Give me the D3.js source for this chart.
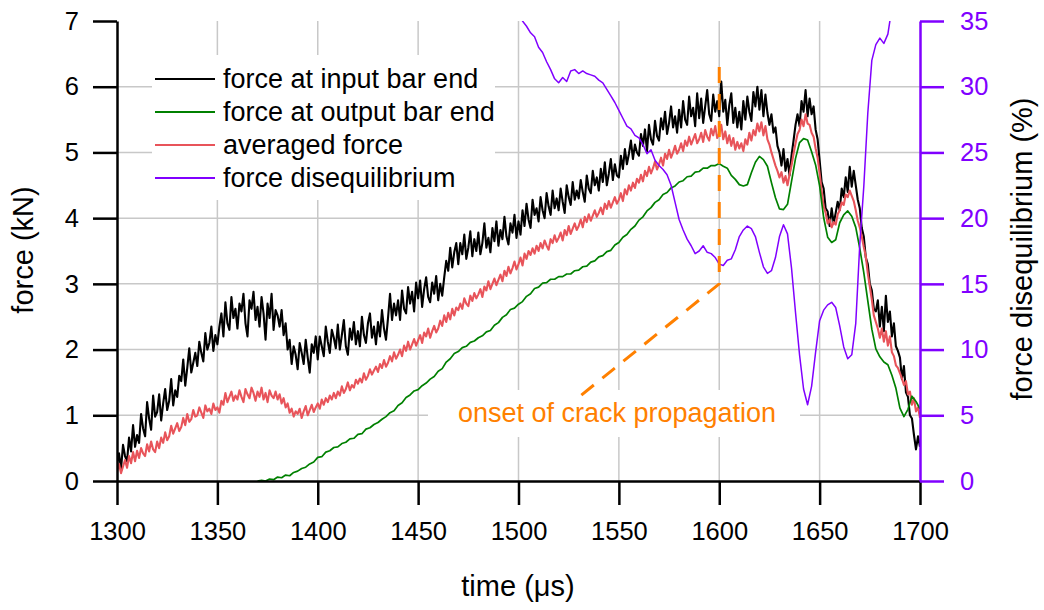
<!DOCTYPE html>
<html><head><meta charset="utf-8">
<script src="https://cdn.jsdelivr.net/npm/d3@7"></script>
<style>
body{margin:0;background:#fff}
svg{display:block}
text{font-family:"Liberation Sans",Arial,sans-serif}
</style>
</head><body>
<svg id="chart" width="1044" height="610"></svg>
<script>
// ---------- data ----------
const timeTicks = [1300, 1350, 1400, 1450, 1500, 1550, 1600, 1650, 1700];
const forceTicks = [0, 1, 2, 3, 4, 5, 6, 7];
const diseqTicks = [0, 5, 10, 15, 20, 25, 30, 35];

// force at input bar end, kN, sampled every 1 µs from 1300 µs
const inputStart = 1300, inputStep = 1;
const inputForce = [
0.25,0.42,0.18,0.55,0.38,0.30,0.66,0.45,0.85,0.52,
0.70,0.58,1.02,0.80,0.68,1.20,0.95,0.78,1.30,0.98,
1.05,1.32,0.92,1.18,1.40,1.08,1.22,1.55,1.15,1.38,
1.28,1.60,1.52,1.85,1.45,1.72,2.02,1.65,1.80,1.95,
1.75,2.12,1.95,1.82,2.25,2.00,2.10,2.35,1.98,2.22,
2.08,2.35,2.55,2.20,2.72,2.40,2.30,2.80,2.48,2.62,
2.32,2.70,2.58,2.85,2.40,2.20,2.75,2.62,2.88,2.45,
2.65,2.35,2.80,2.55,2.15,2.70,2.48,2.85,2.30,2.60,
2.52,2.35,2.60,2.22,2.40,2.00,2.15,1.78,2.05,1.92,
1.70,2.10,1.95,1.78,2.15,1.88,1.65,2.08,1.95,2.20,
1.85,2.20,2.05,1.90,2.35,2.12,1.95,2.30,2.18,2.02,
2.38,2.00,2.22,2.45,2.05,1.92,2.32,2.15,2.42,2.08,
2.28,2.05,2.50,2.22,2.10,2.40,2.55,2.18,2.35,2.08,
2.42,2.20,2.60,2.32,2.15,2.48,2.85,2.45,2.70,2.52,
2.75,2.45,2.90,2.62,2.55,2.95,2.70,2.88,2.58,3.02,
2.78,3.05,2.65,2.92,3.10,2.80,2.72,3.02,2.85,3.12,
2.75,3.00,2.82,3.10,3.35,3.20,3.55,3.25,3.48,3.62,
3.30,3.62,3.45,3.75,3.38,3.55,3.80,3.42,3.68,3.50,
3.78,3.45,3.62,3.92,3.55,3.70,3.48,3.85,3.65,3.95,
3.58,3.82,3.68,4.02,3.72,3.60,3.92,3.78,4.05,3.70,
3.95,3.75,4.12,3.88,4.22,3.98,3.85,4.28,4.05,4.15,
3.95,4.32,4.12,4.00,4.38,4.18,4.05,4.42,4.15,4.30,
4.12,4.45,4.25,4.08,4.50,4.32,4.20,4.55,4.28,4.42,
4.30,4.58,4.40,4.25,4.65,4.45,4.38,4.72,4.50,4.62,
4.42,4.75,4.55,4.85,4.50,4.68,4.90,4.58,4.82,4.65,
4.62,4.95,4.75,5.05,4.82,4.98,5.18,4.90,5.12,5.00,
4.95,5.28,5.10,5.35,5.02,5.42,5.20,5.12,5.48,5.25,
5.18,5.52,5.35,5.62,5.28,5.45,5.70,5.38,5.55,5.30,
5.65,5.38,5.78,5.50,5.42,5.85,5.55,5.68,5.40,5.90,
5.52,5.82,5.45,5.70,5.95,5.58,5.48,5.88,5.62,5.78,
5.55,6.08,5.62,5.80,5.42,5.72,5.90,5.45,5.68,5.38,
5.62,5.35,5.78,5.50,5.85,5.62,5.48,5.92,5.70,6.00,
5.65,5.95,5.55,5.88,5.60,5.42,5.58,5.30,5.38,5.10,
5.00,4.80,5.05,4.72,4.90,4.65,4.95,5.18,5.42,5.58,
5.40,5.78,5.62,5.95,5.55,5.82,5.58,5.70,5.35,5.20,
4.88,4.55,4.45,4.15,4.10,3.88,4.15,3.92,4.08,4.25,
4.12,4.45,4.32,4.62,4.40,4.78,4.48,4.72,4.50,4.28,
4.15,3.85,3.72,3.40,3.30,3.00,2.90,2.62,2.58,2.75,
2.35,2.65,2.28,2.82,2.42,2.58,2.20,2.40,2.05,1.98,
1.88,1.55,1.75,1.35,1.28,1.00,0.95,0.70,0.48,0.68,
0.52
];

// averaged force, kN, every 1 µs from 1300 µs
const avgStart = 1300, avgStep = 1;
const avgForce = [
0.14,0.26,0.12,0.22,0.32,0.20,0.38,0.27,0.44,0.30,
0.46,0.35,0.50,0.42,0.38,0.56,0.45,0.60,0.48,0.44,
0.60,0.50,0.66,0.58,0.74,0.62,0.68,0.84,0.72,0.80,
0.88,0.76,0.82,0.96,0.85,1.02,0.90,0.94,1.08,0.98,
1.00,1.12,1.04,0.96,1.15,1.06,1.10,1.02,1.18,1.08,
1.12,1.04,1.22,1.16,1.34,1.20,1.28,1.36,1.22,1.30,
1.24,1.38,1.28,1.20,1.40,1.32,1.26,1.42,1.34,1.22,
1.36,1.28,1.42,1.24,1.34,1.20,1.38,1.30,1.26,1.36,
1.24,1.32,1.18,1.26,1.12,1.18,1.04,1.10,0.98,1.06,
1.02,1.10,0.96,1.06,1.14,1.00,1.08,1.16,1.05,1.12,
1.18,1.10,1.24,1.16,1.26,1.20,1.30,1.24,1.34,1.26,
1.36,1.30,1.44,1.34,1.40,1.50,1.38,1.46,1.42,1.54,
1.48,1.56,1.50,1.64,1.54,1.60,1.70,1.62,1.68,1.74,
1.66,1.78,1.72,1.84,1.74,1.80,1.90,1.82,1.96,1.86,
1.92,2.00,1.90,2.06,1.98,2.12,2.00,2.08,2.16,2.06,
2.14,2.22,2.10,2.26,2.20,2.32,2.18,2.28,2.36,2.26,
2.32,2.44,2.36,2.52,2.42,2.56,2.46,2.62,2.52,2.64,
2.60,2.70,2.62,2.78,2.70,2.66,2.82,2.74,2.86,2.78,
2.84,2.92,2.80,2.96,2.90,3.04,2.92,3.00,3.08,2.98,
3.06,3.14,3.04,3.20,3.12,3.26,3.16,3.24,3.34,3.22,
3.30,3.40,3.28,3.46,3.38,3.50,3.44,3.54,3.46,3.58,
3.50,3.62,3.54,3.66,3.58,3.52,3.68,3.62,3.74,3.64,
3.70,3.78,3.66,3.82,3.74,3.88,3.76,3.84,3.92,3.82,
3.88,3.98,3.86,4.02,3.94,4.06,3.96,4.04,4.12,4.02,
4.08,4.16,4.06,4.22,4.14,4.26,4.16,4.24,4.32,4.22,
4.28,4.38,4.26,4.44,4.36,4.50,4.42,4.54,4.46,4.60,
4.54,4.66,4.56,4.72,4.64,4.78,4.68,4.76,4.86,4.74,
4.82,4.92,4.80,4.98,4.90,5.04,4.92,5.00,5.10,4.98,
5.04,5.14,5.02,5.18,5.10,5.24,5.12,5.20,5.28,5.14,
5.20,5.30,5.16,5.34,5.24,5.18,5.36,5.26,5.40,5.22,
5.28,5.42,5.20,5.32,5.14,5.26,5.10,5.22,5.04,5.16,
5.06,5.14,5.02,5.20,5.12,5.30,5.18,5.34,5.26,5.44,
5.32,5.46,5.26,5.40,5.20,5.12,5.00,4.90,4.80,4.72,
4.62,4.70,4.54,4.64,4.50,4.66,4.80,4.98,5.14,5.28,
5.34,5.50,5.40,5.58,5.44,5.42,5.30,5.24,5.06,4.92,
4.68,4.42,4.18,4.08,3.92,3.98,3.86,3.94,3.90,4.06,
4.12,4.24,4.20,4.36,4.32,4.42,4.34,4.26,4.12,3.96,
3.86,3.72,3.56,3.42,3.16,2.96,2.76,2.52,2.42,2.32,
2.18,2.32,2.12,2.28,2.06,2.20,1.96,1.90,1.76,1.72,
1.64,1.56,1.46,1.52,1.32,1.36,1.16,1.26,1.06,1.12,
0.96
];

// force at output bar end, kN, every 2 µs from 1370 µs
const outputStart = 1370, outputStep = 2;
const outputForce = [
0.00,0.01,0.00,0.03,0.02,0.06,0.05,0.09,0.08,0.13,
0.15,0.19,0.21,0.26,0.29,0.36,0.37,0.44,0.46,0.51,
0.52,0.57,0.59,0.64,0.65,0.71,0.72,0.79,0.81,0.86,
0.89,0.94,0.98,1.04,1.07,1.15,1.19,1.27,1.31,1.37,
1.39,1.45,1.49,1.55,1.59,1.67,1.71,1.81,1.86,1.94,
1.97,2.03,2.05,2.11,2.13,2.18,2.21,2.27,2.29,2.37,
2.41,2.49,2.53,2.61,2.63,2.69,2.73,2.81,2.85,2.93,
2.95,3.01,3.02,3.07,3.07,3.11,3.11,3.15,3.15,3.20,
3.21,3.26,3.27,3.33,3.35,3.41,3.43,3.49,3.51,3.59,
3.63,3.71,3.75,3.83,3.88,3.97,4.02,4.11,4.16,4.24,
4.28,4.36,4.39,4.46,4.49,4.55,4.57,4.63,4.64,4.70,
4.71,4.76,4.76,4.80,4.80,4.83,4.79,4.76,4.65,4.59,
4.51,4.49,4.51,4.69,4.85,4.94,4.89,4.79,4.54,4.31,
4.14,4.13,4.21,4.56,4.91,5.15,5.21,5.19,5.01,4.81,
4.49,4.01,3.71,3.63,3.67,3.93,4.05,4.11,4.03,3.86,
3.54,3.17,2.74,2.31,2.01,1.89,1.81,1.77,1.61,1.41,
1.11,0.98,1.09,1.29,1.21,1.10
];

// force disequilibrium, %, every 2 µs from 1500 µs
const diseqStart = 1500, diseqStep = 2;
const diseqPct = [
36.0,35.0,34.6,34.1,33.8,33.0,32.6,31.9,31.3,30.6,
30.3,30.7,30.4,31.2,31.3,31.0,31.2,31.0,30.9,30.8,
30.5,30.3,29.8,29.3,28.8,28.2,27.6,27.0,26.8,26.3,
26.1,25.6,24.9,25.2,24.4,24.0,23.7,23.3,22.5,21.2,
19.9,19.1,18.4,17.9,17.3,17.5,17.9,17.4,17.3,17.0,
16.5,16.4,16.8,16.9,17.6,18.6,19.1,19.4,19.2,18.6,
17.4,16.3,15.8,16.0,17.0,18.6,19.5,18.8,16.2,12.8,
9.6,7.0,5.8,7.2,9.8,12.2,13.0,13.4,13.6,13.2,
11.8,10.2,9.3,9.6,12.0,18.0,22.4,28.0,32.0,33.2,
33.7,33.3,34.0,36.0
];

// onset of crack propagation marker: [time, force]
const onsetMarker = [[1600, 6.3], [1600, 3.0], [1531, 1.3]];
const legendLabels = ["force at input bar end", "force at output bar end", "averaged force", "force disequilibrium"];

// ---------- chart ----------
const C = {black:"#000000", green:"#008000", red:"#e8545a", purple:"#8000ff", orange:"#ff8000", grid:"#c8c8c8"};
const svg = d3.select("#chart");
const x = d3.scaleLinear([1300, 1700], [117, 920]);
const y = d3.scaleLinear([0, 7], [481, 21]);
const yR = d3.scaleLinear([0, 35], [481, 21]);

svg.append("defs").append("clipPath").attr("id", "plot")
  .append("rect").attr("x", x(1300)).attr("y", y(7)).attr("width", x(1700) - x(1300)).attr("height", y(0) - y(7));

// grid
const grid = svg.append("g").attr("stroke", C.grid).attr("stroke-width", 1.5);
grid.selectAll("line.v").data(timeTicks.slice(1, -1)).join("line")
  .attr("x1", d => x(d)).attr("x2", d => x(d)).attr("y1", y(7)).attr("y2", y(0));
grid.selectAll("line.h").data(forceTicks.slice(1, -1)).join("line")
  .attr("x1", x(1300)).attr("x2", x(1700)).attr("y1", d => y(d)).attr("y2", d => y(d));

// white boxes behind legend and annotation
svg.append("rect").attr("x", 152).attr("y", 55).attr("width", 343).attr("height", 145).attr("fill", "#fff");
svg.append("rect").attr("x", 428).attr("y", 390).attr("width", 372).attr("height", 47).attr("fill", "#fff");

const series = (vals, start, step) => vals.map((v, i) => [start + i * step, v]);
const plot = svg.append("g").attr("clip-path", "url(#plot)").attr("fill", "none").attr("stroke-linejoin", "round");
const lineL = d3.line().x(d => x(d[0])).y(d => y(d[1]));
const lineR = d3.line().x(d => x(d[0])).y(d => yR(d[1]));

plot.append("path").datum(series(inputForce, inputStart, inputStep)).attr("d", lineL).attr("stroke", C.black).attr("stroke-width", 2.1);
plot.append("path").datum(series(avgForce, avgStart, avgStep)).attr("d", lineL).attr("stroke", C.red).attr("stroke-width", 2.1);
plot.append("path").datum(series(outputForce, outputStart, outputStep)).attr("d", lineL).attr("stroke", C.green).attr("stroke-width", 1.7);
plot.append("path").datum(series(diseqPct, diseqStart, diseqStep)).attr("d", lineR).attr("stroke", C.purple).attr("stroke-width", 1.5);

// onset marker dashed
svg.append("path").datum(onsetMarker).attr("d", lineL).attr("fill", "none")
  .attr("stroke", C.orange).attr("stroke-width", 3).attr("stroke-dasharray", "16,11");

svg.append("text").attr("x", 617).attr("y", 422).attr("text-anchor", "middle")
  .attr("font-size", 27).attr("fill", C.orange).text("onset of crack propagation");

// axes
function styleAxis(g, color) {
  g.attr("font-size", null).attr("font-family", null);
  g.select(".domain").attr("stroke", color).attr("stroke-width", 2.5);
  g.selectAll(".tick line").attr("stroke", color).attr("stroke-width", 2.5);
  g.selectAll(".tick text").attr("fill", color).attr("font-size", 25.5);
}
svg.append("g").attr("transform", `translate(0,${y(0)})`)
  .call(d3.axisBottom(x).tickValues(timeTicks).tickFormat(d3.format("d")).tickSize(24).tickSizeOuter(0).tickPadding(17))
  .call(g => styleAxis(g, C.black));
svg.append("g").attr("transform", `translate(${x(1300)},0)`)
  .call(d3.axisLeft(y).tickValues(forceTicks).tickFormat(d3.format("d")).tickSize(24).tickSizeOuter(0).tickPadding(14))
  .call(g => styleAxis(g, C.black));
svg.append("g").attr("transform", `translate(${x(1700)},0)`)
  .call(d3.axisRight(yR).tickValues(diseqTicks).tickFormat(d3.format("d")).tickSize(24).tickSizeOuter(0).tickPadding(16))
  .call(g => styleAxis(g, C.purple));

// axis titles
svg.append("text").attr("transform", "translate(33,250) rotate(-90)").attr("text-anchor", "middle")
  .attr("font-size", 29).text("force (kN)");
svg.append("text").attr("transform", "translate(1032,249) rotate(-90)").attr("text-anchor", "middle")
  .attr("font-size", 29).text("force disequilibrium (%)");
svg.append("text").attr("x", 518).attr("y", 596).attr("text-anchor", "middle")
  .attr("font-size", 29).text("time (μs)");

// legend
const legColors = [C.black, C.green, C.red, C.purple];
const leg = svg.append("g").selectAll("g").data(legendLabels).join("g")
  .attr("transform", (d, i) => `translate(155,${79 + i * 33})`);
leg.append("line").attr("x1", 0).attr("x2", 60).attr("stroke", (d, i) => legColors[i]).attr("stroke-width", 1.8);
leg.append("text").attr("x", 68).attr("dy", "0.35em").attr("font-size", 27).text(d => d);
</script>
</body></html>
